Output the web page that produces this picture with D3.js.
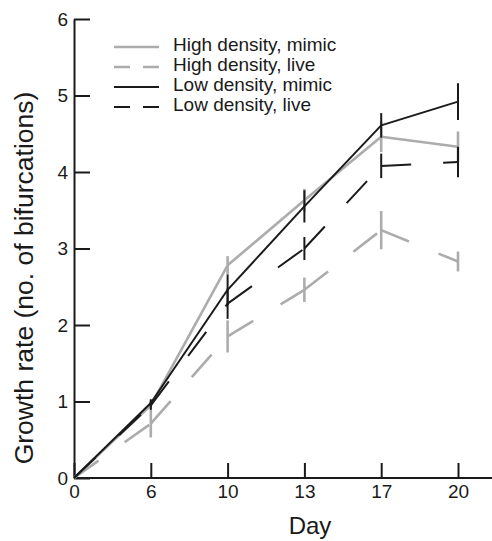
<!DOCTYPE html>
<html lang="en">
<head>
<meta charset="UTF-8">
<title>Growth rate</title>
<script src="https://cdn.jsdelivr.net/npm/d3@7"></script>
<style>
  body { margin: 0; background: #fff; }
  svg text { font-family: "Liberation Sans", Arial, Helvetica, sans-serif; fill: #1a1a1a; }
</style>
</head>
<body>
<div id="box"></div>
<script>
// days (evenly spaced on the axis)
var days = [0, 6, 10, 13, 17, 20];
var yTicks = [0, 1, 2, 3, 4, 5, 6];

// growth rate, no. of bifurcations
var hdMimic = [0, 0.95, 2.78, 3.63, 4.46, 4.33];
var hdMimicErr = [0, 0.05, 0.12, 0.15, 0.2, 0.2];
var hdLive = [0, 0.71, 1.85, 2.46, 3.24, 2.83];
var hdLiveErr = [0, 0.18, 0.21, 0.16, 0.25, 0.13];
var ldMimic = [0, 0.98, 2.46, 3.55, 4.61, 4.92];
var ldMimicErr = [0, 0.05, 0.2, 0.21, 0.16, 0.24];
var ldLive = [0, 0.95, 2.28, 3.0, 4.08, 4.13];
var ldLiveErr = [0, 0.06, 0.2, 0.15, 0.16, 0.2];

var seriesNames = ["High density, mimic", "High density, live", "Low density, mimic", "Low density, live"];

var width = 492, height = 541;
var grey = "#acacac", black = "#1a1a1a";

var series = [
  { name: seriesNames[0], vals: hdMimic, err: hdMimicErr, color: grey, w: 2.6, dashed: false },
  { name: seriesNames[1], vals: hdLive, err: hdLiveErr, color: grey, w: 2.6, dashed: true },
  { name: seriesNames[2], vals: ldMimic, err: ldMimicErr, color: black, w: 2, dashed: false },
  { name: seriesNames[3], vals: ldLive, err: ldLiveErr, color: black, w: 2, dashed: true }
];

var x = d3.scalePoint().domain(days).range([74, 458]);
var y = d3.scaleLinear().domain([0, 6]).range([478, 19]);

var svg = d3.select("#box").append("svg")
  .attr("width", width)
  .attr("height", height);

// axes
var yAxis = d3.axisLeft(y).tickValues(yTicks).tickFormat(d3.format("d"))
  .tickSize(-16).tickSizeOuter(0).tickPadding(6);
var gy = svg.append("g").attr("transform", "translate(74,0)").call(yAxis);
gy.selectAll("text").style("font-size", "19px");

var xAxis = d3.axisBottom(x).tickSize(-15).tickSizeOuter(0).tickPadding(7);
var gx = svg.append("g").attr("transform", "translate(0,478)").call(xAxis);
gx.select(".domain").remove();
gx.selectAll("text").style("font-size", "19px");
gx.append("line").attr("x1", 74).attr("x2", width).attr("stroke", black).attr("stroke-width", 2);

svg.selectAll(".domain, .tick line").attr("stroke", black).attr("stroke-width", 2);
svg.selectAll(".tick text").attr("fill", black);

svg.append("text")
  .attr("x", 310).attr("y", 534)
  .attr("text-anchor", "middle")
  .style("font-size", "24px")
  .text("Day");

svg.append("text")
  .attr("transform", "translate(33,278) rotate(-90)")
  .attr("text-anchor", "middle")
  .style("font-size", "26.5px")
  .text("Growth rate (no. of bifurcations)");

// lines: each segment dashed on its own so the dashes start at the points
var plot = svg.append("g");
series.forEach(function(s) {
  var g = plot.append("g");
  var segs = d3.pairs(days.map(function(d, i) { return [x(d), y(s.vals[i])]; }));
  g.selectAll("line.seg").data(segs).enter().append("line")
    .attr("x1", function(p) { return p[0][0]; })
    .attr("y1", function(p) { return p[0][1]; })
    .attr("x2", function(p) { return p[1][0]; })
    .attr("y2", function(p) { return p[1][1]; })
    .attr("stroke", s.color)
    .attr("stroke-width", s.w)
    .attr("stroke-dasharray", s.dashed ? "30,32" : null);

  // error bars
  g.selectAll("line.err").data(days.slice(1)).enter().append("line")
    .attr("x1", function(d) { return x(d); })
    .attr("x2", function(d) { return x(d); })
    .attr("y1", function(d, i) { return y(s.vals[i + 1] + s.err[i + 1]); })
    .attr("y2", function(d, i) { return y(s.vals[i + 1] - s.err[i + 1]); })
    .attr("stroke", s.color)
    .attr("stroke-width", s.w);
});

// legend
var leg = svg.append("g").attr("transform", "translate(114,47)");
var item = leg.selectAll("g").data(series).enter().append("g")
  .attr("transform", function(d, i) { return "translate(0," + i * 20 + ")"; });
item.append("line")
  .attr("x1", 0).attr("x2", 45)
  .attr("stroke", function(d) { return d.color; })
  .attr("stroke-width", function(d) { return d.w; })
  .attr("stroke-dasharray", function(d) { return d.dashed ? "16,13" : null; });
item.append("text")
  .attr("x", 59).attr("y", 4)
  .style("font-size", "19px")
  .text(function(d) { return d.name; });
</script>
</body>
</html>
